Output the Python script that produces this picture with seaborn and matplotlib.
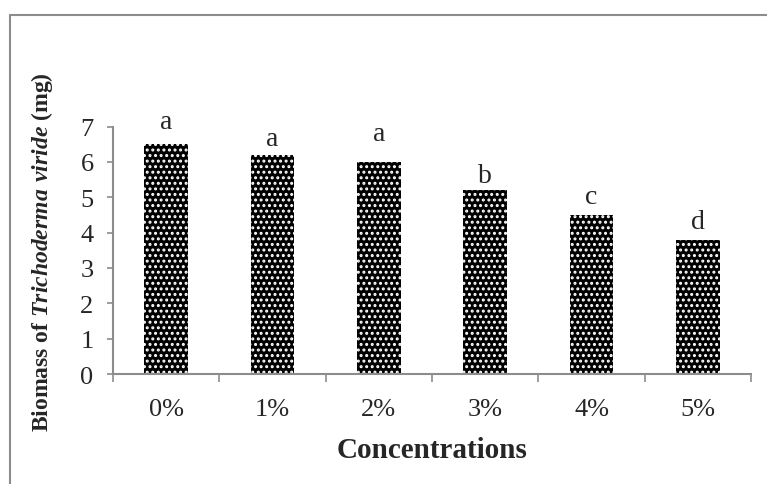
import seaborn as sns
import matplotlib.pyplot as plt
from matplotlib.lines import Line2D

concentrations = ["0%", "1%", "2%", "3%", "4%", "5%"]
biomass = [6.5, 6.2, 6.0, 5.2, 4.5, 3.8]
letters = ["a", "a", "a", "b", "c", "d"]
letter_gap = [0.47, 0.29, 0.63, 0.23, 0.33, 0.33]

sns.set_style("white")
plt.rcParams["font.family"] = ["Liberation Serif", "DejaVu Serif"]
plt.rcParams["mathtext.fontset"] = "custom"
plt.rcParams["mathtext.rm"] = "Liberation Serif:bold"
plt.rcParams["mathtext.bfit"] = "Liberation Serif:italic:bold"
plt.rcParams["hatch.linewidth"] = 1.4

grey = "#8c8c8c"

fig = plt.figure(figsize=(7.67, 4.85), dpi=100)
ax = fig.add_axes([0.1473, 0.2268, 0.832, 0.510])

sns.barplot(x=concentrations, y=biomass, color="black", width=0.41, ax=ax)
for p in ax.patches:
    p.set_facecolor("black")
    p.set_edgecolor("white")
    p.set_linewidth(0)
    p.set_hatch("...")

for i, (v, lab, g) in enumerate(zip(biomass, letters, letter_gap)):
    ax.text(i, v + g, lab, ha="center", va="baseline", fontsize=20)

ax.set_ylim(0, 7)
ax.set_xlim(-0.5, 5.5)
ax.set_yticks(range(0, 8))
ax.tick_params(axis="y", labelsize=19, color=grey, length=4, width=1.2,
               direction="out", left=True, pad=10)
ax.set_xticks(range(6))
ax.set_xticks([i - 0.5 for i in range(7)], minor=True)
ax.tick_params(axis="x", which="major", length=0, labelsize=19, pad=17)
ax.tick_params(axis="x", which="minor", length=6, width=1.2, color=grey,
               direction="out", bottom=True)

for s in ["top", "right"]:
    ax.spines[s].set_visible(False)
for s in ["left", "bottom"]:
    ax.spines[s].set_color(grey)
    ax.spines[s].set_linewidth(1.5)

ax.set_xlabel("Concentrations", fontsize=21, fontweight="bold", labelpad=12)
fig.text(0.055, 0.48, r"Biomass of $\mathbfit{Trichoderma\ viride}$ (mg)",
         rotation=90, ha="center", va="center", fontsize=17, fontweight="bold")

# figure frame
fig.add_artist(Line2D([0.013, 0.013], [0.0, 0.968], color=grey, lw=1.5,
                      transform=fig.transFigure))
fig.add_artist(Line2D([0.013, 1.0], [0.968, 0.968], color=grey, lw=1.5,
                      transform=fig.transFigure))

fig.savefig("out.png", dpi=100)
